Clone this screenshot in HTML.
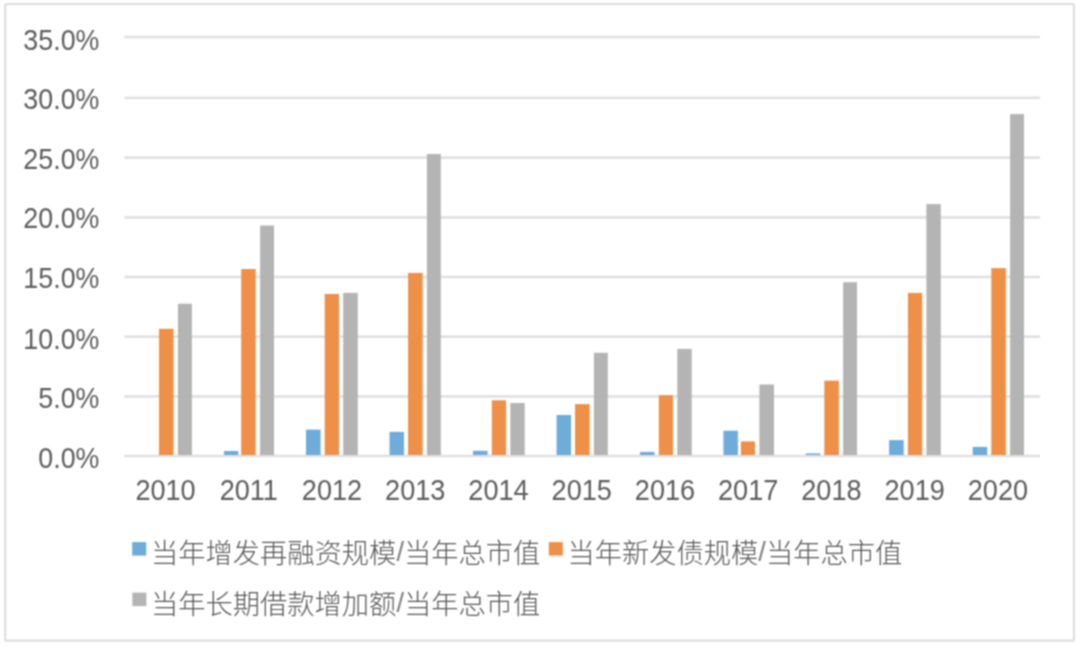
<!DOCTYPE html>
<html><head><meta charset="utf-8"><title>chart</title>
<style>
html,body{margin:0;padding:0;background:#fff;}
body{width:1080px;height:647px;overflow:hidden;}
svg{display:block;}
.t{font-family:"Liberation Sans",Arial,sans-serif;font-size:29px;fill:#5e5e5e;}
.l{font-family:"Liberation Sans","Noto Sans CJK SC",sans-serif;font-size:27.27px;font-weight:300;fill:#585858;}
</style></head>
<body>
<svg width="1080" height="647" viewBox="0 0 1080 647">
<defs><filter id="soft" x="0" y="0" width="1" height="1" color-interpolation-filters="sRGB"><feConvolveMatrix order="3" kernelMatrix="1 2 1 2 4 2 1 2 1" divisor="16" edgeMode="duplicate"/></filter></defs>
<g filter="url(#soft)">
<rect x="0" y="0" width="1080" height="647" fill="#fff"/>
<rect x="5.2" y="4" width="1068.8" height="636.7" rx="1.5" fill="none" stroke="#dedede" stroke-width="2.2"/>
<rect x="124.4" y="35.70" width="915.6" height="2.6" fill="#e0e0e0"/>
<rect x="124.4" y="96.60" width="915.6" height="2.6" fill="#e0e0e0"/>
<rect x="124.4" y="156.35" width="915.6" height="2.6" fill="#e0e0e0"/>
<rect x="124.4" y="216.17" width="915.6" height="2.6" fill="#e0e0e0"/>
<rect x="124.4" y="275.65" width="915.6" height="2.6" fill="#e0e0e0"/>
<rect x="124.4" y="335.42" width="915.6" height="2.6" fill="#e0e0e0"/>
<rect x="124.4" y="395.14" width="915.6" height="2.6" fill="#e0e0e0"/>
<rect x="124.4" y="454.70" width="915.6" height="2.6" fill="#e0e0e0"/>
<text transform="translate(99.4 49.90) scale(0.925 1)" text-anchor="end" class="t">35.0%</text>
<text transform="translate(99.4 109.45) scale(0.925 1)" text-anchor="end" class="t">30.0%</text>
<text transform="translate(99.4 168.55) scale(0.925 1)" text-anchor="end" class="t">25.0%</text>
<text transform="translate(99.4 228.07) scale(0.925 1)" text-anchor="end" class="t">20.0%</text>
<text transform="translate(99.4 288.25) scale(0.925 1)" text-anchor="end" class="t">15.0%</text>
<text transform="translate(99.4 348.87) scale(0.925 1)" text-anchor="end" class="t">10.0%</text>
<text transform="translate(99.4 408.44) scale(0.925 1)" text-anchor="end" class="t">5.0%</text>
<text transform="translate(99.4 468.40) scale(0.925 1)" text-anchor="end" class="t">0.0%</text>
<rect x="159.00" y="328.80" width="14.60" height="126.20" fill="#ef9048"/>
<rect x="177.90" y="303.70" width="14.00" height="151.30" fill="#b4b4b4"/>
<text transform="translate(165.55 500) scale(0.935 1)" text-anchor="middle" class="t">2010</text>
<rect x="224.00" y="451.00" width="14.30" height="4.00" fill="#6eacda"/>
<rect x="241.20" y="269.00" width="14.50" height="186.00" fill="#ef9048"/>
<rect x="260.10" y="225.50" width="13.90" height="229.50" fill="#b4b4b4"/>
<text transform="translate(248.79 500) scale(0.935 1)" text-anchor="middle" class="t">2011</text>
<rect x="306.00" y="429.60" width="14.60" height="25.40" fill="#6eacda"/>
<rect x="324.70" y="294.00" width="14.40" height="161.00" fill="#ef9048"/>
<rect x="343.20" y="292.90" width="14.60" height="162.10" fill="#b4b4b4"/>
<text transform="translate(332.02 500) scale(0.935 1)" text-anchor="middle" class="t">2012</text>
<rect x="389.55" y="431.90" width="14.45" height="23.10" fill="#6eacda"/>
<rect x="408.05" y="272.90" width="14.65" height="182.10" fill="#ef9048"/>
<rect x="426.90" y="154.00" width="13.90" height="301.00" fill="#b4b4b4"/>
<text transform="translate(415.25 500) scale(0.935 1)" text-anchor="middle" class="t">2013</text>
<rect x="473.00" y="450.80" width="14.55" height="4.20" fill="#6eacda"/>
<rect x="491.80" y="400.30" width="14.25" height="54.70" fill="#ef9048"/>
<rect x="510.30" y="403.00" width="14.40" height="52.00" fill="#b4b4b4"/>
<text transform="translate(498.49 500) scale(0.935 1)" text-anchor="middle" class="t">2014</text>
<rect x="556.55" y="415.00" width="14.50" height="40.00" fill="#6eacda"/>
<rect x="575.05" y="404.10" width="14.65" height="50.90" fill="#ef9048"/>
<rect x="593.90" y="352.80" width="13.90" height="102.20" fill="#b4b4b4"/>
<text transform="translate(581.73 500) scale(0.935 1)" text-anchor="middle" class="t">2015</text>
<rect x="640.00" y="451.90" width="14.55" height="3.10" fill="#6eacda"/>
<rect x="658.80" y="395.20" width="14.25" height="59.80" fill="#ef9048"/>
<rect x="677.30" y="348.90" width="14.40" height="106.10" fill="#b4b4b4"/>
<text transform="translate(664.96 500) scale(0.935 1)" text-anchor="middle" class="t">2016</text>
<rect x="723.44" y="430.70" width="14.46" height="24.30" fill="#6eacda"/>
<rect x="740.90" y="441.40" width="14.20" height="13.60" fill="#ef9048"/>
<rect x="759.40" y="384.50" width="14.60" height="70.50" fill="#b4b4b4"/>
<text transform="translate(748.19 500) scale(0.935 1)" text-anchor="middle" class="t">2017</text>
<rect x="805.70" y="453.40" width="14.50" height="1.60" fill="#6eacda"/>
<rect x="824.30" y="380.70" width="14.60" height="74.30" fill="#ef9048"/>
<rect x="843.10" y="282.20" width="13.90" height="172.80" fill="#b4b4b4"/>
<text transform="translate(831.43 500) scale(0.935 1)" text-anchor="middle" class="t">2018</text>
<rect x="889.10" y="440.10" width="14.60" height="14.90" fill="#6eacda"/>
<rect x="907.90" y="292.90" width="14.30" height="162.10" fill="#ef9048"/>
<rect x="926.40" y="204.10" width="14.40" height="250.90" fill="#b4b4b4"/>
<text transform="translate(914.66 500) scale(0.935 1)" text-anchor="middle" class="t">2019</text>
<rect x="972.70" y="446.90" width="14.50" height="8.10" fill="#6eacda"/>
<rect x="991.30" y="268.10" width="14.60" height="186.90" fill="#ef9048"/>
<rect x="1010.10" y="114.10" width="13.90" height="340.90" fill="#b4b4b4"/>
<text transform="translate(997.90 500) scale(0.935 1)" text-anchor="middle" class="t">2020</text>
<rect x="132.2" y="542.1" width="14" height="13.5" fill="#6eacda"/>
<text x="151.0" y="563.0" class="l">当年增发再融资规模<tspan dy="-1.8" fill="#808080">/</tspan><tspan dy="1.8">当年总市值</tspan></text>
<rect x="548.8" y="542.1" width="14" height="13.5" fill="#ef9048"/>
<text x="567.5" y="563.0" class="l">当年新发债规模<tspan dy="-1.8" fill="#808080">/</tspan><tspan dy="1.8">当年总市值</tspan></text>
<rect x="132.4" y="592.6" width="14" height="13.5" fill="#b4b4b4"/>
<text x="151.0" y="613.5" class="l">当年长期借款增加额<tspan dy="-1.8" fill="#808080">/</tspan><tspan dy="1.8">当年总市值</tspan></text>
</g>
</svg>
</body></html>
